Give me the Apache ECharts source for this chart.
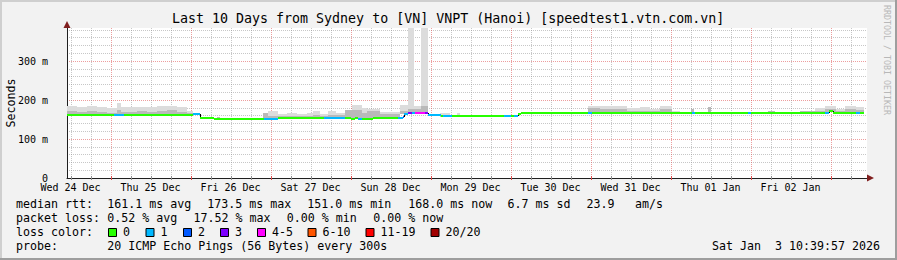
<!DOCTYPE html>
<html><head><meta charset="utf-8">
<script src="https://cdn.jsdelivr.net/npm/echarts@6/dist/echarts.min.js"></script>
<style>html,body{margin:0;padding:0;background:#f2f2f2;} #c{width:897px;height:260px;}</style>
</head><body><div id="c"></div><script>
// x values are hours since 00:00 Wed 24 Dec
const xStart = 10.95, xEnd = 250.95;
const dayLabels = ['Wed 24 Dec','Thu 25 Dec','Fri 26 Dec','Sat 27 Dec','Sun 28 Dec','Mon 29 Dec','Tue 30 Dec','Wed 31 Dec','Thu 01 Jan','Fri 02 Jan'];
const dayLabelHours = [12,36,60,84,108,132,156,180,204,228];
const yMax = 385;
const yTickLabels = {0:'0',100:'100 m',200:'200 m',300:'300 m'};
const lossColors = ['#26ff00','#00b8ff','#0059ff','#7e00ff','#ff00ff','#ff5500','#ff0000','#a10000'];
const lossLabels = ['0','1','2','3','4-5','6-10','11-19','20/20'];

// median rtt (ms) as steps: start hour, value, loss-colour index
const medStart = [10.95,25.05,28.05,48.75,50.85,55.05,70.05,74.25,88.05,94.35,96.15,97.35,98.25,99.45,102.75,110.25,111.75,112.05,113.25,114.45,115.35,118.35,119.25,123.15,123.75,126.45,142.05,144.15,145.05,146.25,147.15,167.25,168.45,198.45,199.35,215.25,216.15,238.35,239.55,240.75,247.65,248.85];
const medValue = [161,161,161,165,153,151,151,154,153,154,151,154,151,151,153,153,157,165,167,166,167,167,161,159,159,159,159,159,159,163,168,168,168,168,168,168,168,168,172,168,168,168];
const medLoss  = [0,1,0,1,0,0,1,0,1,0,0,0,1,0,0,1,2,1,3,1,4,3,1,0,1,0,1,0,1,0,0,1,0,1,0,1,0,1,0,0,1,0];
const dataEnd = 250.05;

// smoke (ms): start hour, outer top, inner (darker) top; 0 = no smoke
const smokeStart = [10.95,13.95,16.95,19.95,22.95,25.95,27.15,31.95,34.95,37.95,40.95,43.95,46.95,48.75,50.85,55.95,56.85,69.75,71.25,74.25,76.95,79.95,82.95,84.75,86.85,89.25,91.65,94.35,96.45,99.45,100.95,104.85,110.85,113.25,115.05,117.15,119.25,120.75,122.85,125.85,127.95,128.85,167.25,170.85,174.45,178.95,182.85,185.85,188.85,192.45,194.85,198.15,199.05,203.25,204.15,221.25,223.35,230.85,235.35,238.35,241.65,244.35,247.65];
const smokeTop = [184,183,186,182,180,193,183,182,183,186,186,182,171,167,0,157,0,168,172,165,167,163,168,173,165,173,168,175,188,180,176,169,188,390,184,390,164,0,166,0,166,0,185,184,186,180,181,178,184,172,0,177,0,181,0,173,0,173,180,185,178,184,182];
const smokeMid = [172,170,172,170,168,175,170,172,170,172,175,170,166,167,0,157,0,168,160,158,160,158,160,162,160,162,162,175,175,168,171,164,172,178,177,184,164,0,162,0,162,0,179,176,178,172,173,172,176,170,0,177,0,181,0,171,0,171,173,177,173,176,174];

const gridHours = [];
for (let h = 12; h < xEnd; h += 6) gridHours.push(h);

function endsOf(starts){ return starts.slice(1).concat([dataEnd]); }
const medEnd = endsOf(medStart);
const smokeEnd = endsOf(smokeStart);
function medianAt(h){ let v = medValue[0]; for (let i=0;i<medStart.length;i++){ if (medStart[i] <= h) v = medValue[i]; } return v; }

const FONT = '"DejaVu Sans Mono", monospace';
const chart = echarts.init(document.getElementById('c'), null, {renderer:'svg', width:897, height:260});

const MINOR = 'rgba(143,143,143,0.5)', MAJOR = 'rgba(222,79,79,0.55)';
const yColors = [];
for (let i=0;i<=20;i++) yColors.push(i===20 ? 'rgba(0,0,0,0)' : (i%5===0 ? MAJOR : MINOR));

const legendTexts = [
  // [text, x, y]
  ['median rtt:',16,204],['161.1 ms avg',107.3,204],['173.5 ms max',207.3,204],['151.0 ms min',307.3,204],['168.0 ms now',408.3,204],['6.7 ms sd',507.5,204],['23.9',586.5,204],['am/s',635,204],
  ['packet loss:',16,218],['0.52 % avg',107.3,218],['17.52 % max',193.5,218],['0.00 % min',286.7,218],['0.00 % now',373.3,218],
  ['loss color:',16,232],
  ['probe:',16,246],['20 ICMP Echo Pings (56 Bytes) every 300s',107.3,246]
];
const boxX = [108,145.5,183,220,257,307.5,365.5,430.5];

const graphics = [];
legendTexts.forEach(t => graphics.push({type:'text', silent:true, style:{text:t[0], x:t[1], y:t[2], font:'11.63px '+FONT, fill:'#000', verticalAlign:'middle'}}));
boxX.forEach((x,i) => {
  graphics.push({type:'rect', silent:true, shape:{x:x+0.5, y:228.5, width:8, height:8}, style:{fill:lossColors[i], stroke:'#000', lineWidth:1}});
  graphics.push({type:'text', silent:true, style:{text:lossLabels[i], x:x+15, y:232, font:'11.63px '+FONT, fill:'#000', verticalAlign:'middle'}});
});
graphics.push({type:'text', silent:true, style:{text:'Sat Jan  3 10:39:57 2026', x:880, y:246, font:'11.63px '+FONT, fill:'#000', align:'right', verticalAlign:'middle'}});
graphics.push({type:'text', silent:true, rotation:-Math.PI/2, x:887, y:5, style:{text:'RRDTOOL / TOBI OETIKER', x:0, y:0, font:'8.3px '+FONT, fill:'#b8b8b8', verticalAlign:'middle'}});
// frame shading
graphics.push({type:'rect', silent:true, shape:{x:0,y:0,width:897,height:2}, style:{fill:'#cfcfcf'}});
graphics.push({type:'rect', silent:true, shape:{x:0,y:0,width:2,height:260}, style:{fill:'#cfcfcf'}});
graphics.push({type:'rect', silent:true, shape:{x:0,y:258,width:897,height:2}, style:{fill:'#9e9e9e'}});
graphics.push({type:'rect', silent:true, shape:{x:895,y:0,width:2,height:260}, style:{fill:'#9e9e9e'}});
// axis arrows
graphics.push({type:'polygon', silent:true, z:100, shape:{points:[[63.5,28],[70.5,28],[67,21]]}, style:{fill:'#801f1f'}});
graphics.push({type:'polygon', silent:true, z:100, shape:{points:[[867,174.5],[867,181.5],[874,178]]}, style:{fill:'#801f1f'}});

const option = {
  backgroundColor:'#f2f2f2',
  animation:false,
  title:{text:'Last 10 Days from Sydney to [VN] VNPT (Hanoi) [speedtest1.vtn.com.vn]', left:172, top:12, padding:0, textStyle:{fontFamily:FONT, fontSize:13.3, fontWeight:'normal', color:'#000'}},
  grid:{left:67, top:28, width:800, height:150, show:true, backgroundColor:'#ffffff', borderWidth:0, containLabel:false, outerBoundsMode:'none'},
  xAxis:{type:'value', min:xStart, max:xEnd,
    axisLine:{show:true, lineStyle:{color:'#1f1f1f', width:1}},
    axisTick:{show:false}, splitLine:{show:false},
    axisLabel:{customValues:dayLabelHours, formatter:(v)=>{const i=dayLabelHours.indexOf(Math.round(v)); return i>=0?dayLabels[i]:'';}, fontFamily:FONT, fontSize:10, lineHeight:9, color:'#000', margin:5}
  },
  yAxis:{type:'value', min:0, max:yMax, interval:20,
    name:'Seconds', nameLocation:'middle', nameRotate:90, nameGap:50, nameMoveOverlap:false, nameTextStyle:{fontFamily:FONT, fontSize:11.6, color:'#000'},
    axisLine:{show:true, lineStyle:{color:'#1f1f1f', width:1}},
    axisTick:{show:false},
    splitLine:{show:true, lineStyle:{color:yColors, width:1, type:[1,1]}},
    axisLabel:{formatter:(v)=> (yTickLabels[v]!==undefined ? yTickLabels[v] : ''), fontFamily:FONT, fontSize:10, lineHeight:9, color:'#000', margin:19}
  },
  graphic:graphics,
  series:[
    {type:'custom', name:'grid', silent:true, z:1, clip:false,
      data:gridHours.map(h=>[h,0]),
      renderItem:(p,api)=>{
        const h = api.value(0);
        const t = api.coord([h,yMax]); const b = api.coord([h,0]);
        const x = Math.round(t[0])+0.5; const major = (h%24===0);
        return {type:'group', children:[
          {type:'line', shape:{x1:x,y1:t[1],x2:x,y2:b[1]}, style:{stroke: major?MAJOR:MINOR, lineWidth:1, lineDash:[1,1]}},
          {type:'line', shape:{x1:x,y1:b[1]-2,x2:x,y2:b[1]+2}, style:{stroke: major?'#de4f4f':'#8f8f8f', lineWidth:1}}
        ]};
      }},
    {type:'custom', name:'smoke', silent:true, z:2, clip:true,
      data:smokeStart.map((s,i)=>[s, smokeEnd[i], smokeTop[i], smokeMid[i], medianAt((s+smokeEnd[i])/2)-1.5]),
      renderItem:(p,api)=>{
        const top = api.value(2); if (!top) return null;
        const a = api.coord([api.value(0), top]);
        const m = api.coord([api.value(0), api.value(3)]);
        const b = api.coord([api.value(1), api.value(4)]);
        const x0 = Math.round(a[0]), x1 = Math.round(b[0]);
        const yb = Math.round(b[1]);
        return {type:'group', children:[
          {type:'rect', shape:{x:x0, y:Math.round(a[1]), width:x1-x0, height:yb-Math.round(a[1])}, style:{fill:'#dcdcdc'}},
          {type:'rect', shape:{x:x0, y:Math.round(m[1]), width:x1-x0, height:yb-Math.round(m[1])}, style:{fill:'#b9b9b9'}}
        ]};
      }},
    {type:'custom', name:'steps', silent:true, z:3,
      data:medStart.slice(1).map((s,i)=>[s, medValue[i], medValue[i+1]]),
      renderItem:(p,api)=>{
        const a = api.coord([api.value(0), api.value(1)]);
        const b = api.coord([api.value(0), api.value(2)]);
        const x = Math.round(a[0])+0.5;
        return {type:'line', shape:{x1:x,y1:Math.round(a[1]),x2:x,y2:Math.round(b[1])}, style:{stroke:'#000', lineWidth:1}};
      }},
    {type:'custom', name:'median', silent:true, z:4,
      data:medStart.map((s,i)=>[s, medValue[i], medEnd[i], medLoss[i]]),
      renderItem:(p,api)=>{
        const a = api.coord([api.value(0), api.value(1)]);
        const b = api.coord([api.value(2), api.value(1)]);
        const y = Math.round(a[1]);
        return {type:'line', shape:{x1:Math.round(a[0]),y1:y,x2:Math.round(b[0]),y2:y}, style:{stroke:lossColors[api.value(3)], lineWidth:2}};
      }}
  ]
};
chart.setOption(option);
</script></body></html>
